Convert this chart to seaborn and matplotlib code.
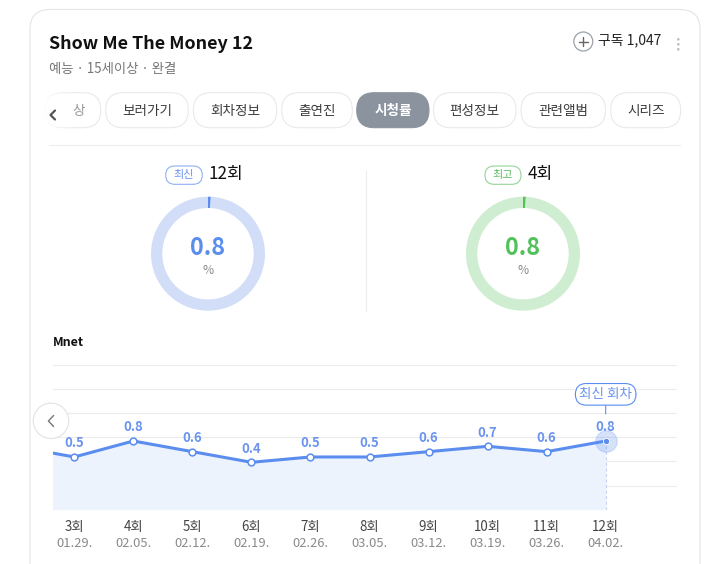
import numpy as np
import pandas as pd
import seaborn as sns
import matplotlib
matplotlib.use("Agg")
import matplotlib.pyplot as plt
from matplotlib.patches import FancyBboxPatch, Circle

# ----------------------------
# values
program_title = "Show Me The Money 12"
program_meta = "예능 · 15세이상 · 완결"
subscribers = "1,047"
channel = "Mnet"
tab_labels = ["상", "보러가기", "회차정보", "출연진", "시청률", "편성정보", "관련앨범", "시리즈"]
active_tab = "시청률"
episode_nums = [2, 3, 4, 5, 6, 7, 8, 9, 10, 11, 12]
air_dates = ["01.22.", "01.29.", "02.05.", "02.12.", "02.19.", "02.26.",
             "03.05.", "03.12.", "03.19.", "03.26.", "04.02."]
ratings = [0.7, 0.5, 0.8, 0.6, 0.4, 0.5, 0.5, 0.6, 0.7, 0.6, 0.8]
# ----------------------------

W, H = 717, 564
BLUE = "#5b8def"
BLUE_TXT = "#6a94ee"
BLUE_LIGHT = "#d2def8"
GREEN = "#55c05a"
GREEN_LIGHT = "#cfedd0"
FILL = "#edf3fd"

sns.set_style("white")
plt.rcParams["font.family"] = ["Noto Sans CJK KR", "DejaVu Sans"]

df = pd.DataFrame({"ep": episode_nums, "date": air_dates, "rating": ratings})
df["label"] = df["ep"].astype(str) + "회"
latest = df.iloc[-1]
best = df.iloc[df["rating"].idxmax()]

fig = plt.figure(figsize=(W / 100, H / 100), dpi=100)
fig.patch.set_facecolor("white")

# background layer in pixel coordinates
bg = fig.add_axes([0, 0, 1, 1], zorder=0)
bg.set_xlim(0, W)
bg.set_ylim(H, 0)
bg.axis("off")


def pill(ax, x0, y0, x1, y1, fc="white", ec="#e6e6e6", lw=0.75, r=None):
    if r is None:
        r = (y1 - y0) / 2
    ax.add_patch(FancyBboxPatch((x0, y0), x1 - x0, y1 - y0,
                                boxstyle=f"round,pad=0,rounding_size={r}",
                                fc=fc, ec=ec, lw=lw))


# card
pill(bg, 30, 9.5, 700, 640, fc="white", ec="#e4e4e4", lw=0.8, r=20)

# header
bg.text(49, 44, program_title, fontsize=12.9, weight="bold", color="#111",
        va="center", ha="left")
bg.text(49, 68.5, program_meta, fontsize=9.6, color="#777", va="center", ha="left")
bg.add_patch(Circle((583.3, 41.5), 9.5, fc="none", ec="#9aa1aa", lw=0.9))
bg.plot([578.8, 587.8], [41.5, 41.5], color="#666", lw=1.0)
bg.plot([583.3, 583.3], [37, 46], color="#666", lw=1.0)
bg.text(598, 40.5, f"구독 {subscribers}", fontsize=10, color="#222", va="center", ha="left")
for yy in (39.3, 44.3, 49.3):
    bg.add_patch(Circle((678.3, yy), 1.3, fc="#bdbdbd", ec="none"))

# tabs
tab_x = [(45, 100.7), (105.7, 188.3), (193.3, 276.7), (281.7, 352.3),
         (356.7, 429), (433.5, 516), (521, 605.5), (610.7, 680.7)]
for (x0, x1), lab in zip(tab_x, tab_labels):
    on = lab == active_tab
    pill(bg, x0, 92.7, x1, 127.7, fc="#8a939e" if on else "white",
         ec="#8a939e" if on else "#e8e8e8")
    cx = 78.5 if lab == "상" else (x0 + x1) / 2
    bg.text(cx, 110.5, lab, fontsize=9.8, ha="center", va="center",
            color="white" if on else ("#9a9a9a" if lab == "상" else "#3c3c3c"),
            weight="bold" if on else "medium")
fade = np.ones((1, 60, 4))
fade[0, :, 3] = np.clip(np.linspace(1.3, -0.2, 60), 0, 1)
bg.imshow(fade, extent=(31, 82, 129, 91), aspect="auto", zorder=3)
bg.plot([55, 50.5, 55], [110.5, 115, 119.5], color="#555", lw=1.6, zorder=4,
        solid_capstyle="round")
bg.plot([49, 680], [144.5, 144.5], color="#ededed", lw=0.8)

# summary section
bg.plot([366, 366], [170, 311], color="#ededed", lw=0.8)
pill(bg, 165.7, 166, 202.3, 184.3, ec="#8fb0f2", lw=0.8)
bg.text(184, 175.3, "최신", fontsize=8, color=BLUE_TXT, ha="center", va="center",
        weight="medium")
bg.text(209, 174.5, latest["label"], fontsize=12.3, color="#111", ha="left", va="center")
pill(bg, 485, 166, 521, 184.3, ec="#93d496", lw=0.8)
bg.text(503, 175.3, "최고", fontsize=8, color="#5cbb60", ha="center", va="center",
        weight="medium")
bg.text(527.5, 174.5, best["label"], fontsize=12.3, color="#111", ha="left", va="center")


def donut(cx, cy, value, dark, light, txt):
    r = 57
    a = fig.add_axes([(cx - r) / W, (H - cy - r) / H, 2 * r / W, 2 * r / H], zorder=1)
    a.pie([value, 100 - value], colors=[dark, light], startangle=90,
          counterclock=False, radius=1,
          wedgeprops=dict(width=11.3 / r, linewidth=0))
    a.set_xlim(-1, 1)
    a.set_ylim(-1, 1)
    a.text(0, 0.095, f"{value}", fontsize=16.8, weight="bold", color=txt,
           ha="center", va="center")
    a.text(0, -0.29, "%", fontsize=8.6, color="#8a8a8a", ha="center", va="center")


donut(208, 253.7, latest["rating"], BLUE, BLUE_LIGHT, BLUE)
donut(523, 253.7, best["rating"], GREEN, GREEN_LIGHT, "#52c15a")

bg.text(53, 343, channel, fontsize=9, weight="bold", color="#111", ha="left", va="center")

# line chart
top, bottom, left, right = 365, 509.7, 53, 677
x_lo, x_hi = 2.639, 13.208
ymin, ymax = -0.49, 2.227
ax = fig.add_axes([left / W, (H - bottom) / H, (right - left) / W, (bottom - top) / H], zorder=2)
ax.patch.set_alpha(0)

ax.fill_between(df["ep"], df["rating"], ymin, color=FILL, lw=0, zorder=1)
ax.vlines(latest["ep"], ymin, latest["rating"], colors="#c8d5ee", lw=0.8,
          linestyles=(0, (3, 2)), zorder=2)
sns.lineplot(data=df, x="ep", y="rating", color=BLUE, lw=2.2, ax=ax, zorder=3)
sns.scatterplot(data=df.iloc[:-1], x="ep", y="rating", s=24, color="white",
                edgecolor=BLUE, linewidth=1.1, ax=ax, zorder=4)
ax.scatter([latest["ep"]], [latest["rating"]], s=240, color=BLUE, alpha=0.25,
           edgecolor=BLUE, linewidth=0.8, zorder=4)
ax.scatter([latest["ep"]], [latest["rating"]], s=20, color=BLUE,
           edgecolor="white", linewidth=0.6, zorder=5)
ax.set_xlabel("")
ax.set_ylabel("")

ax.set_yticks(np.linspace(ymin, ymax, 7))
ax.yaxis.grid(True, color="#ececec", lw=0.8)
ax.set_yticklabels([])
ax.set_xticks(df["ep"])
ax.set_xticklabels([])
ax.tick_params(length=0)
sns.despine(ax=ax, left=True, bottom=True)
ax.set_xlim(x_lo, x_hi)
ax.set_ylim(ymin, ymax)

for _, row in df.iterrows():
    ax.annotate(f"{row['rating']}", (row["ep"], row["rating"]), xytext=(0, 9.8),
                textcoords="offset points", ha="center", va="center",
                fontsize=9.4, weight="bold", color=BLUE_TXT, annotation_clip=True)
    if row["ep"] < x_lo:
        continue
    ax.annotate(row["label"], (row["ep"], 0), xycoords=("data", "axes fraction"),
                xytext=(0, -12.8), textcoords="offset points", ha="center",
                va="center", fontsize=9.6, color="#444")
    ax.annotate(row["date"], (row["ep"], 0), xycoords=("data", "axes fraction"),
                xytext=(0, -24), textcoords="offset points", ha="center",
                va="center", fontsize=9.3, color="#8a8a8a")

# callout over the latest episode
ax.annotate("", (latest["ep"], latest["rating"]), xytext=(0, 27),
            textcoords="offset points",
            arrowprops=dict(arrowstyle="-", color=BLUE, lw=0.8, shrinkA=0, shrinkB=19.5))
ax.annotate("최신 회차", (latest["ep"], latest["rating"]), xytext=(0, 33.6),
            textcoords="offset points", ha="center", va="center", fontsize=9.8,
            color=BLUE_TXT, weight="medium",
            bbox=dict(boxstyle="round,pad=0.28,rounding_size=0.8", fc="white",
                      ec=BLUE, lw=0.8))

# left scroll button on top of the chart
fg = fig.add_axes([0, 0, 1, 1], zorder=5)
fg.set_xlim(0, W)
fg.set_ylim(H, 0)
fg.axis("off")
fg.add_patch(Circle((51, 420.8), 17.7, fc="white", ec="#e2e2e2", lw=0.8))
fg.plot([53.6, 48.4, 53.6], [415.5, 421, 426.5], color="#777", lw=1.0)

fig.savefig("out.png", dpi=100, facecolor="white")
